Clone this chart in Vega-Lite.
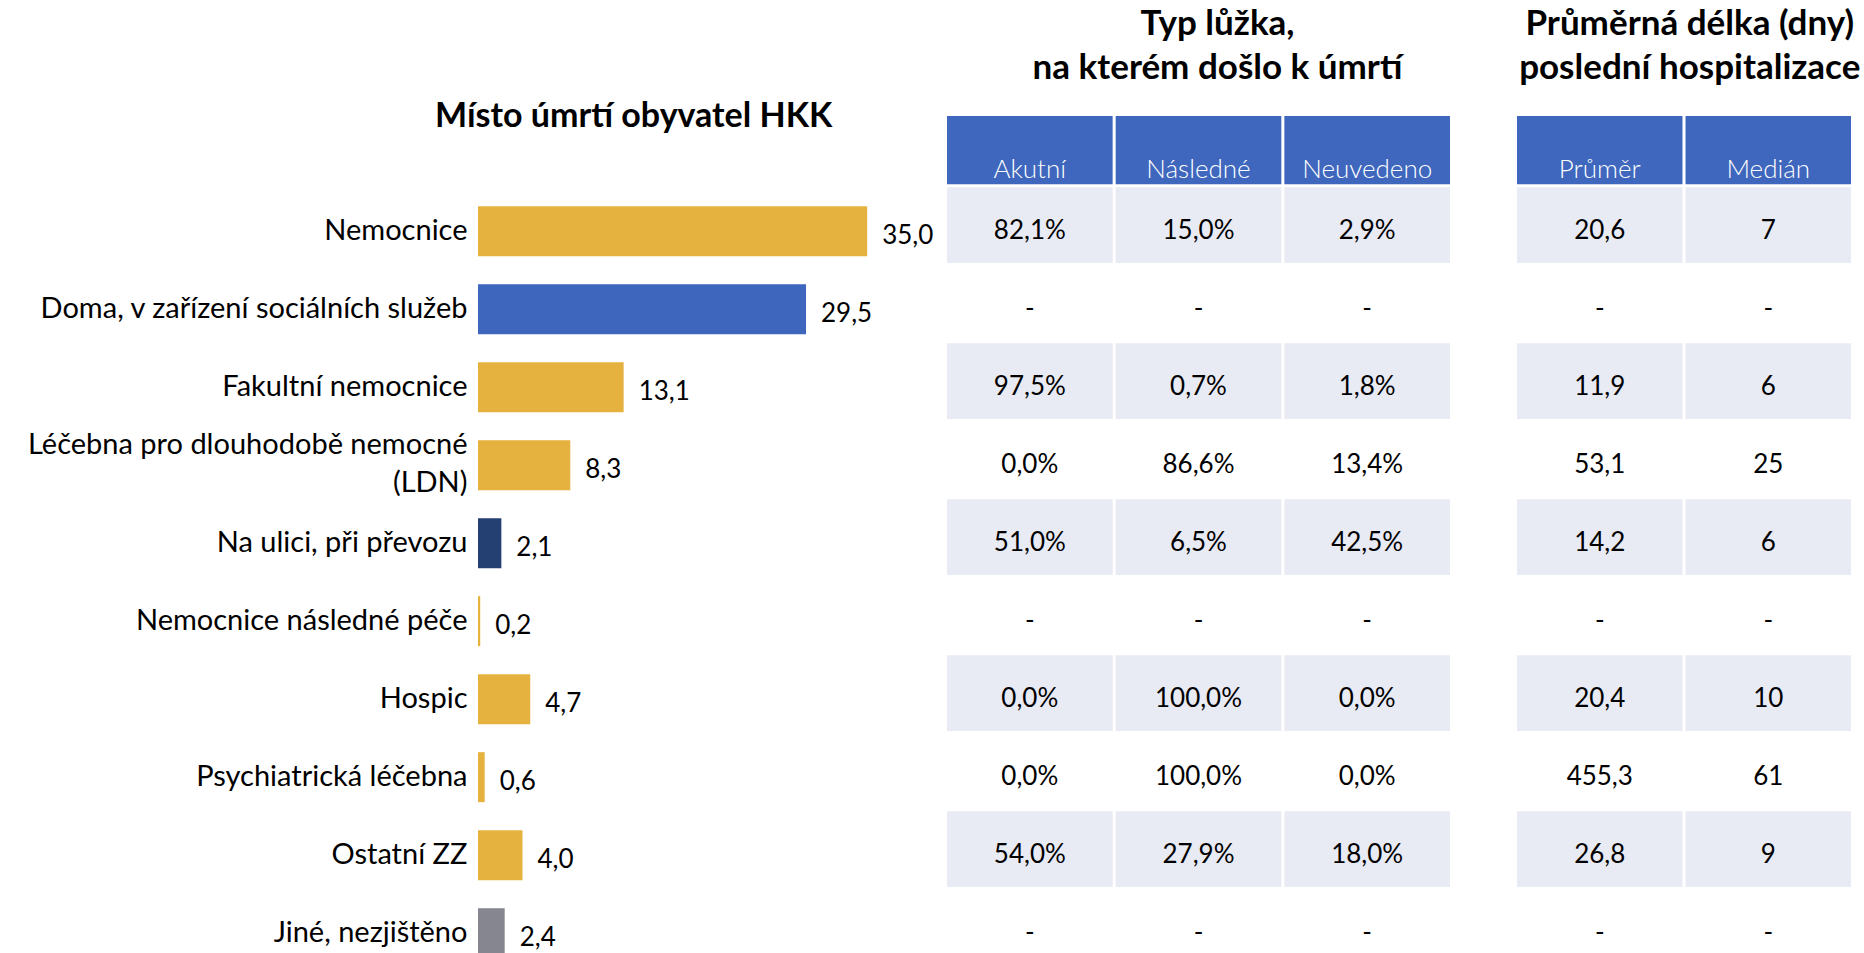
{
  "$schema": "https://vega.github.io/schema/vega-lite/v6.json",
  "padding": 0,
  "background": "white",
  "config": {
    "font": "Lato",
    "view": {"stroke": null},
    "locale": {"number": {"decimal": ",", "thousands": "\u00a0", "grouping": [3], "currency": ["", "\u00a0Kč"]}}
  },
  "data": {
    "values": [
      {"cat": "Nemocnice", "podil": 35.0, "Akutní": 0.821, "Následné": 0.150, "Neuvedeno": 0.029, "Průměr": 20.6, "Medián": 7},
      {"cat": "Doma, v zařízení sociálních služeb", "podil": 29.5, "Akutní": null, "Následné": null, "Neuvedeno": null, "Průměr": null, "Medián": null},
      {"cat": "Fakultní nemocnice", "podil": 13.1, "Akutní": 0.975, "Následné": 0.007, "Neuvedeno": 0.018, "Průměr": 11.9, "Medián": 6},
      {"cat": "Léčebna pro dlouhodobě nemocné (LDN)", "podil": 8.3, "Akutní": 0.000, "Následné": 0.866, "Neuvedeno": 0.134, "Průměr": 53.1, "Medián": 25},
      {"cat": "Na ulici, při převozu", "podil": 2.1, "Akutní": 0.510, "Následné": 0.065, "Neuvedeno": 0.425, "Průměr": 14.2, "Medián": 6},
      {"cat": "Nemocnice následné péče", "podil": 0.2, "Akutní": null, "Následné": null, "Neuvedeno": null, "Průměr": null, "Medián": null},
      {"cat": "Hospic", "podil": 4.7, "Akutní": 0.000, "Následné": 1.000, "Neuvedeno": 0.000, "Průměr": 20.4, "Medián": 10},
      {"cat": "Psychiatrická léčebna", "podil": 0.6, "Akutní": 0.000, "Následné": 1.000, "Neuvedeno": 0.000, "Průměr": 455.3, "Medián": 61},
      {"cat": "Ostatní ZZ", "podil": 4.0, "Akutní": 0.540, "Následné": 0.279, "Neuvedeno": 0.180, "Průměr": 26.8, "Medián": 9},
      {"cat": "Jiné, nezjištěno", "podil": 2.4, "Akutní": null, "Následné": null, "Neuvedeno": null, "Průměr": null, "Medián": null}
    ]
  },
  "bounds": "flush",
  "spacing": 2,
  "hconcat": [
    {
      "width": 467,
      "height": 968,
      "encoding": {
        "y": {
          "field": "cat", "type": "nominal",
          "scale": {"domain": ["title", "header", "Nemocnice", "Doma, v zařízení sociálních služeb", "Fakultní nemocnice", "Léčebna pro dlouhodobě nemocné (LDN)", "Na ulici, při převozu", "Nemocnice následné péče", "Hospic", "Psychiatrická léčebna", "Ostatní ZZ", "Jiné, nezjištěno"], "paddingInner": 0.03, "paddingOuter": 0.22, "align": 1},
          "axis": {
            "title": null, "ticks": false, "domain": false, "grid": false,
            "labelFont": "Lato", "labelFontSize": 29, "labelColor": "#000000", "labelPadding": 11,
            "labelLimit": 480, "labelLineHeight": 38, "labelOffset": 3, "minExtent": 478, "maxExtent": 478,
            "labelBaseline": {"condition": {"test": "datum.value == 'Léčebna pro dlouhodobě nemocné (LDN)'", "value": "line-bottom"}, "value": "middle"},
            "labelExpr": "datum.value == 'title' || datum.value == 'header' ? '' : (datum.value == 'Léčebna pro dlouhodobě nemocné (LDN)' ? ['Léčebna pro dlouhodobě nemocné', '(LDN)'] : datum.value)"
          }
        }
      },
      "layer": [
        {
          "mark": {"type": "bar", "size": 50, "yOffset": 3},
          "encoding": {
            "x": {"field": "podil", "type": "quantitative", "scale": {"domain": [0, 42], "nice": false}, "axis": null},
            "color": {"field": "cat", "type": "nominal", "legend": null,
              "scale": {"domain": ["Nemocnice", "Doma, v zařízení sociálních služeb", "Fakultní nemocnice", "Léčebna pro dlouhodobě nemocné (LDN)", "Na ulici, při převozu", "Nemocnice následné péče", "Hospic", "Psychiatrická léčebna", "Ostatní ZZ", "Jiné, nezjištěno"],
                        "range": ["#E6B23F", "#3E66BD", "#E6B23F", "#E6B23F", "#243F72", "#E6B23F", "#E6B23F", "#E6B23F", "#E6B23F", "#85868F"]}}
          }
        },
        {
          "mark": {"type": "text", "align": "left", "baseline": "middle", "dx": 15, "yOffset": 8, "fontSize": 26, "font": "Lato", "color": "#000000"},
          "encoding": {
            "x": {"field": "podil", "type": "quantitative"},
            "text": {"field": "podil", "type": "quantitative", "format": ".1f"}
          }
        },
        {
          "data": {"values": [{"nadpis": "Místo úmrtí obyvatel HKK"}]},
          "mark": {"type": "text", "align": "center", "baseline": "middle", "dy": 45, "fontSize": 34, "fontWeight": "bold", "font": "Lato", "color": "#000000"},
          "encoding": {
            "x": {"datum": 14, "type": "quantitative"},
            "y": {"datum": "title", "type": "nominal"},
            "text": {"field": "nadpis"}
          }
        }
      ]
    },
    {
      "bounds": "flush",
      "spacing": 67,
      "hconcat": [
        {
          "width": 503,
          "height": 968,
          "transform": [
            {"window": [{"op": "row_number", "as": "poradi"}]},
            {"fold": ["Akutní", "Následné", "Neuvedeno"], "as": ["sloupec", "hodnota"]}
          ],
          "encoding": {
            "x": {"field": "sloupec", "type": "nominal", "scale": {"domain": ["Akutní", "Následné", "Neuvedeno"], "paddingInner": 0.018, "paddingOuter": 0}, "axis": null},
            "y": {
              "field": "cat", "type": "nominal",
              "scale": {"domain": ["title", "header", "Nemocnice", "Doma, v zařízení sociálních služeb", "Fakultní nemocnice", "Léčebna pro dlouhodobě nemocné (LDN)", "Na ulici, při převozu", "Nemocnice následné péče", "Hospic", "Psychiatrická léčebna", "Ostatní ZZ", "Jiné, nezjištěno"], "paddingInner": 0.03, "paddingOuter": 0.22, "align": 1},
              "axis": null
            }
          },
          "layer": [
            {
              "transform": [{"filter": "datum.poradi % 2 == 1"}],
              "mark": {"type": "rect", "color": "#E8EAF4", "yOffset": -3}
            },
            {
              "mark": {"type": "text", "align": "center", "baseline": "middle", "yOffset": 3, "fontSize": 26, "font": "Lato", "color": "#000000"},
              "encoding": {
                "text": {"condition": {"test": "!isValid(datum.hodnota)", "value": "-"}, "field": "hodnota", "type": "quantitative", "format": ".1%"}
              }
            },
            {
              "transform": [{"filter": "datum.poradi == 1"}],
              "mark": {"type": "rect", "color": "#3E67BD", "height": {"band": 0.9}},
              "encoding": {"y": {"datum": "header", "type": "nominal"}}
            },
            {
              "transform": [{"filter": "datum.poradi == 1"}],
              "mark": {"type": "text", "align": "center", "baseline": "alphabetic", "dy": 28, "fontSize": 26, "fontWeight": 300, "font": "Lato", "color": "#FFFFFF"},
              "encoding": {"y": {"datum": "header", "type": "nominal"}, "text": {"field": "sloupec"}}
            },
            {
              "data": {"values": [{"nadpis": "Typ lůžka,\nna kterém došlo k úmrtí"}]},
              "mark": {"type": "text", "align": "center", "baseline": "middle", "lineBreak": "\n", "lineHeight": 44, "dx": 19, "dy": -48, "fontSize": 35, "fontWeight": "bold", "font": "Lato", "color": "#000000"},
              "encoding": {
                "x": {"datum": "Následné", "type": "nominal"},
                "y": {"datum": "title", "type": "nominal"},
                "text": {"field": "nadpis"}
              }
            }
          ]
        },
        {
          "width": 334,
          "height": 968,
          "transform": [
            {"window": [{"op": "row_number", "as": "poradi"}]},
            {"fold": ["Průměr", "Medián"], "as": ["sloupec", "hodnota"]}
          ],
          "encoding": {
            "x": {"field": "sloupec", "type": "nominal", "scale": {"domain": ["Průměr", "Medián"], "paddingInner": 0.018, "paddingOuter": 0}, "axis": null},
            "y": {
              "field": "cat", "type": "nominal",
              "scale": {"domain": ["title", "header", "Nemocnice", "Doma, v zařízení sociálních služeb", "Fakultní nemocnice", "Léčebna pro dlouhodobě nemocné (LDN)", "Na ulici, při převozu", "Nemocnice následné péče", "Hospic", "Psychiatrická léčebna", "Ostatní ZZ", "Jiné, nezjištěno"], "paddingInner": 0.03, "paddingOuter": 0.22, "align": 1},
              "axis": null
            }
          },
          "layer": [
            {
              "transform": [{"filter": "datum.poradi % 2 == 1"}],
              "mark": {"type": "rect", "color": "#E8EAF4", "yOffset": -3}
            },
            {
              "mark": {"type": "text", "align": "center", "baseline": "middle", "yOffset": 3, "fontSize": 26, "font": "Lato", "color": "#000000"},
              "encoding": {
                "text": {"condition": {"test": "!isValid(datum.hodnota)", "value": "-"}, "field": "hodnota", "type": "quantitative", "format": ".1~f"}
              }
            },
            {
              "transform": [{"filter": "datum.poradi == 1"}],
              "mark": {"type": "rect", "color": "#3E67BD", "height": {"band": 0.9}},
              "encoding": {"y": {"datum": "header", "type": "nominal"}}
            },
            {
              "transform": [{"filter": "datum.poradi == 1"}],
              "mark": {"type": "text", "align": "center", "baseline": "alphabetic", "dy": 28, "fontSize": 26, "fontWeight": 300, "font": "Lato", "color": "#FFFFFF"},
              "encoding": {"y": {"datum": "header", "type": "nominal"}, "text": {"field": "sloupec"}}
            },
            {
              "data": {"values": [{"nadpis": "Průměrná délka (dny)\nposlední hospitalizace"}]},
              "mark": {"type": "text", "align": "center", "baseline": "middle", "lineBreak": "\n", "lineHeight": 44, "dx": 90, "dy": -48, "fontSize": 35, "fontWeight": "bold", "font": "Lato", "color": "#000000"},
              "encoding": {
                "x": {"datum": "Průměr", "type": "nominal"},
                "y": {"datum": "title", "type": "nominal"},
                "text": {"field": "nadpis"}
              }
            }
          ]
        }
      ]
    }
  ]
}
